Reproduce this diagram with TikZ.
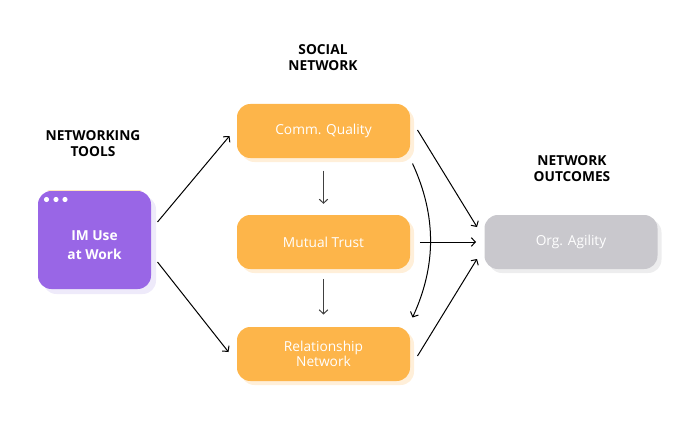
\documentclass[tikz,border=0pt]{standalone}
\usepackage{fontspec}
\setmainfont{Open Sans}
\usetikzlibrary{arrows.meta,shadows}

\definecolor{boxorange}{RGB}{253,181,74}
\definecolor{shadeorange}{RGB}{255,239,217}
\definecolor{boxpurple}{RGB}{153,102,230}
\definecolor{shadepurple}{RGB}{238,234,250}
\definecolor{boxgray}{RGB}{201,200,205}
\definecolor{shadegray}{RGB}{237,237,238}

\tikzset{every picture/.style={line width=0.75pt}}
\tikzset{
  stage/.style={rounded corners=10pt, minimum width=129.75pt, minimum height=40.5pt,
    text=white, font=\fontsize{10.3}{11.5}\selectfont, align=center, inner sep=0pt},
  orangebox/.style={stage, fill=boxorange,
    general shadow={fill=shadeorange, shadow xshift=3pt, shadow yshift=-3pt}},
  graybox/.style={stage, fill=boxgray,
    general shadow={fill=shadegray, shadow xshift=3pt, shadow yshift=-3pt}},
  heading/.style={font=\bfseries\fontsize{10.3}{12}\selectfont, align=center},
  link/.style={-{Straight Barb[length=3pt,width=6.5pt]}, black},
}

\begin{document}
\begin{tikzpicture}[x=0.75pt,y=0.75pt,yscale=-1,xscale=1]
\useasboundingbox (0,0) rectangle (700,428);

% Headings
\node (toolshead) [heading] at (93,144) {NETWORKING\\TOOLS};
\node (socialhead) [heading] at (323,58) {SOCIAL\\NETWORK};
\node (outhead) [heading] at (572,169) {NETWORK\\OUTCOMES};

% IM box with window header
\node (im) [rounded corners=10pt, fill=boxpurple, minimum width=84.75pt, minimum height=73.5pt,
  general shadow={fill=shadepurple, shadow xshift=3.75pt, shadow yshift=-3.75pt}] at (94.5,240) {};
\begin{scope}
  \clip [rounded corners=10pt] (im.south west) rectangle (im.north east);
  \fill [boxorange] (im.north west) rectangle ([yshift=-12.75pt]im.north east);
\end{scope}
\foreach \dx in {9,18.5,27.5}
  \fill [white] ([shift={(\dx,9)}]im.north west) circle (2.6);
\node (imtext) [text=white, font=\bfseries\fontsize{10.3}{14}\selectfont, align=center]
  at (94.5,245) {IM Use\\at Work};

% Social network boxes
\node (comm) [orangebox] at (323.5,131) {Comm. Quality};
\node (trust) [orangebox] at (323.5,242) {Mutual Trust};
\node (rel) [orangebox] at (323.5,354) {Relationship\\Network};

% Outcome
\node (org) [graybox] at (571,242) {Org. Agility};

% Connectors
\draw [link] ([shift={(6,-18)}]im.east) -- ([shift={(-7,5)}]comm.west);
\draw [link] ([shift={(6,22)}]im.east) -- ([shift={(-8,-2)}]rel.west);
\draw [link, black!75] ([yshift=9]comm.south) -- ([yshift=-8]trust.north);
\draw [link, black!75] ([yshift=7]trust.south) -- ([yshift=-9]rel.north);
\draw [link] ([shift={(7,-1)}]comm.east) -- ([shift={(-7,-15)}]org.west);
\draw [link] ([xshift=7]trust.east) -- ([xshift=-6]org.west);
\draw [link] ([shift={(7,2)}]rel.east) -- ([shift={(-7,17)}]org.west);
\draw [link] ([shift={(2,5)}]comm.south east) .. controls +(24,52) and +(24,-52) .. ([shift={(2,-9)}]rel.north east);

\end{tikzpicture}
\end{document}
